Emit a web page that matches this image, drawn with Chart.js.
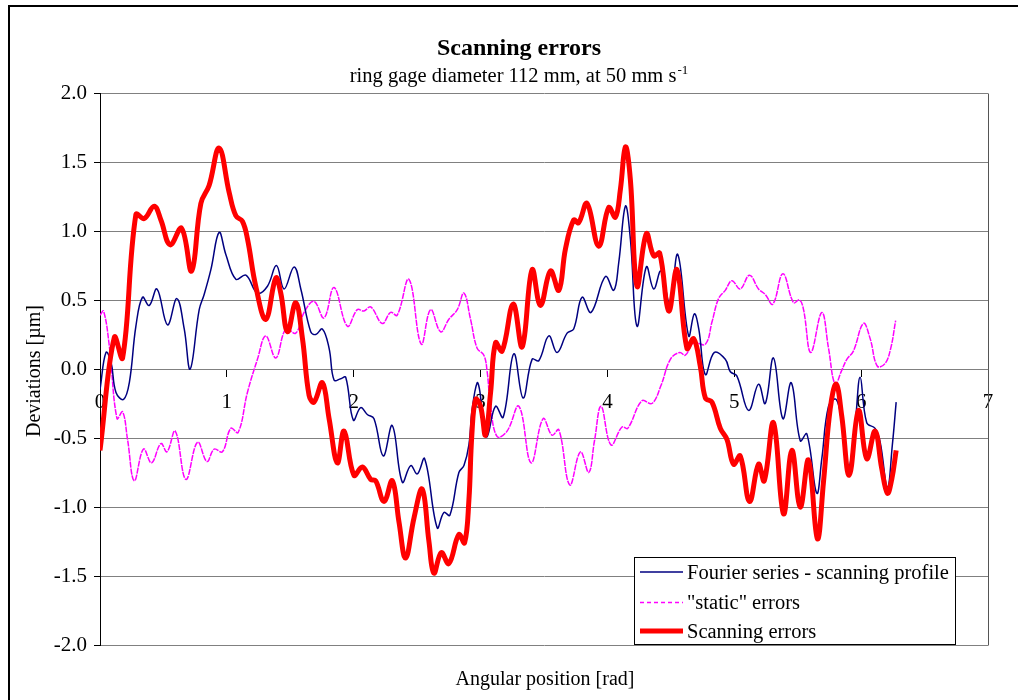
<!DOCTYPE html>
<html>
<head>
<meta charset="utf-8">
<script src="https://cdn.jsdelivr.net/npm/chart.js@4.4.1/dist/chart.umd.min.js"></script>
<style>
  html, body { margin: 0; padding: 0; background: #fff; }
  #wrap { position: relative; width: 1018px; height: 700px; }
  canvas { display: block; }
</style>
</head>
<body>
<div id="wrap"><canvas id="c" width="1018" height="700"></canvas></div>
<script>
// ---- Data ----
const titleText = "Scanning errors";
const subtitleText = "ring gage diameter 112 mm, at 50 mm s";
const subtitleSup = "-1";
const xAxisTitle = "Angular position [rad]";
const yAxisTitle = "Deviations [\u00b5m]";
const seriesLabels = ["Fourier series - scanning profile", "\"static\" errors", "Scanning errors"];
const xTickValues = [0, 1, 2, 3, 4, 5, 6, 7];
const yTickValues = [-2.0, -1.5, -1.0, -0.5, 0.0, 0.5, 1.0, 1.5, 2.0];

const fourierX = [0.000,0.047,0.087,0.126,0.186,0.231,0.283,0.335,0.388,0.449,
  0.532,0.606,0.664,0.711,0.782,0.821,0.874,0.939,0.992,1.071,
  1.150,1.241,1.320,1.391,1.451,1.530,1.583,1.661,1.701,1.753,
  1.806,1.845,1.898,1.937,1.997,2.055,2.107,2.160,2.233,2.304,
  2.383,2.449,2.501,2.559,2.658,2.711,2.758,2.829,2.869,2.908,
  2.934,2.973,2.994,3.026,3.052,3.118,3.178,3.262,3.335,3.406,
  3.459,3.538,3.603,3.682,3.734,3.800,3.871,3.984,4.050,4.089,
  4.142,4.181,4.233,4.307,4.365,4.422,4.491,4.554,4.640,4.685,
  4.720,4.772,4.843,4.929,4.969,5.020,5.113,5.191,5.244,5.309,
  5.383,5.449,5.520,5.572,5.650,5.690,5.743,5.803,5.847,5.900,
  5.953,5.992,6.044,6.110,6.150,6.207,6.246,6.276];
const fourierY = [-0.15,0.12,0.05,-0.17,-0.22,-0.10,0.31,0.52,0.46,0.58,
  0.32,0.51,0.29,0.00,0.43,0.54,0.72,0.99,0.83,0.65,
  0.68,0.55,0.60,0.75,0.58,0.74,0.58,0.27,0.25,0.29,
  0.15,-0.08,-0.07,-0.06,-0.37,-0.28,-0.33,-0.36,-0.63,-0.41,
  -0.82,-0.70,-0.76,-0.65,-1.15,-1.04,-1.06,-0.75,-0.70,-0.55,
  -0.29,-0.10,-0.16,-0.43,-0.49,-0.27,-0.35,0.11,-0.21,0.07,
  0.06,0.24,0.12,0.26,0.29,0.52,0.41,0.67,0.57,0.77,
  1.18,0.94,0.31,0.74,0.58,0.71,0.48,0.83,0.24,0.40,
  0.29,-0.04,0.12,0.07,-0.02,-0.05,-0.30,-0.11,-0.25,0.08,
  -0.36,-0.10,-0.52,-0.47,-0.90,-0.65,-0.27,-0.22,-0.39,-0.71,
  -0.39,-0.06,-0.39,-0.43,-0.53,-0.86,-0.55,-0.24];

const staticX = [0.000,0.028,0.073,0.134,0.178,0.217,0.270,0.343,0.406,0.480,
  0.528,0.593,0.677,0.769,0.843,0.900,0.965,1.031,1.089,1.162,
  1.241,1.307,1.386,1.465,1.543,1.609,1.687,1.766,1.845,1.950,
  2.028,2.081,2.134,2.225,2.291,2.343,2.435,2.532,2.606,2.685,
  2.750,2.816,2.869,2.921,2.973,3.026,3.052,3.079,3.131,3.209,
  3.302,3.398,3.493,3.564,3.617,3.703,3.787,3.853,3.898,3.950,
  4.028,4.115,4.160,4.272,4.351,4.422,4.496,4.570,4.614,4.680,
  4.772,4.824,4.876,4.929,4.981,5.047,5.120,5.191,5.244,5.304,
  5.383,5.467,5.514,5.546,5.603,5.690,5.743,5.795,5.847,5.887,
  5.939,6.018,6.071,6.128,6.189,6.233,6.272];
const staticY = [0.39,0.42,0.17,-0.36,-0.31,-0.51,-0.81,-0.58,-0.68,-0.54,
  -0.60,-0.45,-0.80,-0.53,-0.67,-0.58,-0.60,-0.43,-0.46,-0.17,
  0.07,0.24,0.08,0.29,0.26,0.41,0.49,0.37,0.59,0.31,
  0.43,0.42,0.45,0.33,0.41,0.39,0.65,0.18,0.43,0.27,
  0.36,0.43,0.55,0.36,0.15,0.10,-0.02,-0.27,-0.49,-0.45,
  -0.27,-0.68,-0.36,-0.48,-0.44,-0.84,-0.60,-0.75,-0.52,-0.27,
  -0.55,-0.42,-0.43,-0.23,-0.25,-0.12,0.07,0.12,0.10,0.19,
  0.18,0.34,0.51,0.57,0.64,0.58,0.68,0.58,0.54,0.47,
  0.69,0.48,0.50,0.43,0.12,0.41,0.15,-0.11,-0.01,0.07,
  0.13,0.33,0.22,0.02,0.04,0.15,0.35];

const scanX = [0.000,0.113,0.178,0.283,0.349,0.427,0.480,0.553,0.643,0.722,
  0.795,0.860,0.939,1.018,1.071,1.123,1.163,1.228,1.307,1.386,
  1.425,1.478,1.543,1.596,1.648,1.687,1.753,1.806,1.871,1.924,
  2.002,2.068,2.134,2.173,2.239,2.304,2.357,2.409,2.475,2.540,
  2.593,2.632,2.690,2.750,2.829,2.874,2.908,2.931,2.961,3.000,
  3.039,3.079,3.118,3.170,3.257,3.328,3.406,3.472,3.551,3.617,
  3.669,3.734,3.773,3.839,3.931,4.010,4.063,4.102,4.142,4.181,
  4.233,4.307,4.365,4.412,4.483,4.548,4.627,4.680,4.732,4.772,
  4.824,4.890,4.942,4.994,5.047,5.120,5.191,5.236,5.309,5.388,
  5.454,5.520,5.585,5.655,5.703,5.756,5.803,5.847,5.906,5.979,
  6.044,6.110,6.162,6.207,6.241,6.276];
const scanY = [-0.59,0.23,0.08,1.12,1.09,1.18,1.08,0.90,1.02,0.71,
  1.20,1.33,1.60,1.28,1.11,1.07,0.94,0.60,0.36,0.66,
  0.55,0.27,0.48,0.22,-0.19,-0.24,-0.10,-0.36,-0.68,-0.45,
  -0.77,-0.71,-0.80,-0.81,-0.96,-0.81,-1.11,-1.37,-1.08,-0.87,
  -1.25,-1.48,-1.33,-1.41,-1.20,-1.26,-0.95,-0.48,-0.22,-0.27,
  -0.48,-0.17,0.19,0.13,0.47,0.16,0.72,0.46,0.71,0.57,
  0.87,1.08,1.06,1.20,0.89,1.17,1.10,1.30,1.61,1.37,
  0.60,0.98,0.82,0.84,0.42,0.72,0.15,0.22,0.02,-0.21,
  -0.24,-0.43,-0.51,-0.69,-0.63,-0.96,-0.69,-0.81,-0.39,-1.05,
  -0.59,-1.00,-0.66,-1.23,-0.82,-0.29,-0.11,-0.34,-0.77,-0.30,
  -0.65,-0.45,-0.72,-0.90,-0.80,-0.59];

// ---- Build chart ----
const pts = (xs, ys) => xs.map((x, i) => ({ x: x, y: ys[i] }));
const FONT = '"Liberation Serif", "Times New Roman", serif';

const legendStyles = [
  { color: '#000080', width: 1.5, dash: [] },
  { color: '#FF00FF', width: 1.5, dash: [4, 3] },
  { color: '#FF0000', width: 5, dash: [] }
];

const deco = {
  id: 'deco',
  beforeDraw(chart) {
    const ctx = chart.ctx;
    ctx.save();
    ctx.fillStyle = '#fff';
    ctx.fillRect(0, 0, chart.width, chart.height);
    ctx.strokeStyle = '#000';
    ctx.lineWidth = 2;
    ctx.beginPath();
    ctx.moveTo(9, 720); ctx.lineTo(9, 6); ctx.lineTo(1030, 6);
    ctx.stroke();
    ctx.restore();
  },
  afterDraw(chart) {
    const ctx = chart.ctx;
    const a = chart.chartArea;
    ctx.save();
    // plot area right border
    ctx.strokeStyle = '#555';
    ctx.lineWidth = 1;
    ctx.beginPath();
    const rx = Math.round(a.right) + 0.5;
    ctx.moveTo(rx, Math.round(a.top) + 0.5);
    ctx.lineTo(rx, Math.round(a.bottom) + 0.5);
    ctx.stroke();

    // title
    ctx.fillStyle = '#000';
    ctx.textAlign = 'center';
    ctx.textBaseline = 'alphabetic';
    ctx.font = 'bold 24px ' + FONT;
    ctx.fillText(titleText, 519, 55);

    // subtitle with superscript
    ctx.font = '20.5px ' + FONT;
    const w1 = ctx.measureText(subtitleText).width;
    ctx.font = '13px ' + FONT;
    const w2 = ctx.measureText(subtitleSup).width;
    const x0 = 519 - (w1 + w2 + 1) / 2;
    ctx.textAlign = 'left';
    ctx.font = '20.5px ' + FONT;
    ctx.fillText(subtitleText, x0, 82);
    ctx.font = '13px ' + FONT;
    ctx.fillText(subtitleSup, x0 + w1 + 1, 74);

    // axis titles
    ctx.font = '20px ' + FONT;
    ctx.textAlign = 'center';
    ctx.fillText(xAxisTitle, 545, 685);
    ctx.save();
    ctx.translate(35, 371);
    ctx.rotate(-Math.PI / 2);
    ctx.textBaseline = 'middle';
    ctx.fillText(yAxisTitle, 0, 0);
    ctx.restore();

    // legend
    const L = { x: 634, y: 557, w: 321, h: 87 };
    ctx.fillStyle = '#fff';
    ctx.fillRect(L.x, L.y, L.w, L.h);
    ctx.strokeStyle = '#000';
    ctx.lineWidth = 1;
    ctx.setLineDash([]);
    ctx.strokeRect(L.x + 0.5, L.y + 0.5, L.w, L.h);
    const lineYs = [572, 602.5, 631];
    const baseYs = [579, 609, 638];
    chart.data.datasets.forEach((ds, i) => {
      const st = legendStyles[i];
      ctx.strokeStyle = st.color;
      ctx.lineWidth = st.width;
      ctx.setLineDash(st.dash);
      ctx.beginPath();
      ctx.moveTo(640, lineYs[i]);
      ctx.lineTo(683, lineYs[i]);
      ctx.stroke();
      ctx.setLineDash([]);
      ctx.fillStyle = '#000';
      ctx.textAlign = 'left';
      ctx.textBaseline = 'alphabetic';
      ctx.font = '20.5px ' + FONT;
      ctx.fillText(ds.label, 687, baseYs[i]);
    });
    ctx.restore();
  }
};

new Chart(document.getElementById('c'), {
  type: 'scatter',
  data: {
    datasets: [
      {
        label: seriesLabels[0],
        data: pts(fourierX, fourierY),
        showLine: true,
        borderColor: '#000080',
        borderWidth: 1.5,
        pointRadius: 0,
        tension: 0.4,
        order: 1
      },
      {
        label: seriesLabels[1],
        data: pts(staticX, staticY),
        showLine: true,
        borderColor: '#FF00FF',
        borderWidth: 1.5,
        borderDash: [6, 1],
        pointRadius: 0,
        tension: 0.4,
        order: 2
      },
      {
        label: seriesLabels[2],
        data: pts(scanX, scanY),
        showLine: true,
        borderColor: '#FF0000',
        borderWidth: 5,
        pointRadius: 0,
        tension: 0.4,
        order: 0
      }
    ]
  },
  options: {
    responsive: false,
    animation: false,
    devicePixelRatio: 1,
    layout: { padding: { top: 93, right: 30, bottom: 55, left: 0 } },
    plugins: {
      legend: { display: false },
      title: { display: false },
      tooltip: { enabled: false }
    },
    scales: {
      x: {
        type: 'linear',
        position: { y: 0 },
        min: xTickValues[0],
        max: xTickValues[xTickValues.length - 1],
        afterBuildTicks: (s) => { s.ticks = xTickValues.map(v => ({ value: v })); },
        ticks: {
          color: '#000',
          font: { family: FONT, size: 21 },
          padding: 14,
          maxRotation: 0,
          autoSkip: false
        },
        grid: {
          drawOnChartArea: false,
          drawTicks: true,
          tickLength: 7,
          tickColor: '#000',
          color: '#808080'
        },
        border: { display: true, color: '#808080', width: 1 }
      },
      y: {
        type: 'linear',
        position: 'left',
        min: yTickValues[0],
        max: yTickValues[yTickValues.length - 1],
        afterBuildTicks: (s) => { s.ticks = yTickValues.map(v => ({ value: v })); },
        afterFit: (s) => { s.width = 100; },
        ticks: {
          color: '#000',
          font: { family: FONT, size: 21 },
          padding: 7,
          callback: (v) => Number(v).toFixed(1)
        },
        grid: {
          color: '#808080',
          lineWidth: 1,
          drawTicks: true,
          tickLength: 6,
          tickColor: '#000'
        },
        border: { display: true, color: '#000', width: 1 }
      }
    }
  },
  plugins: [deco]
});
</script>
</body>
</html>
